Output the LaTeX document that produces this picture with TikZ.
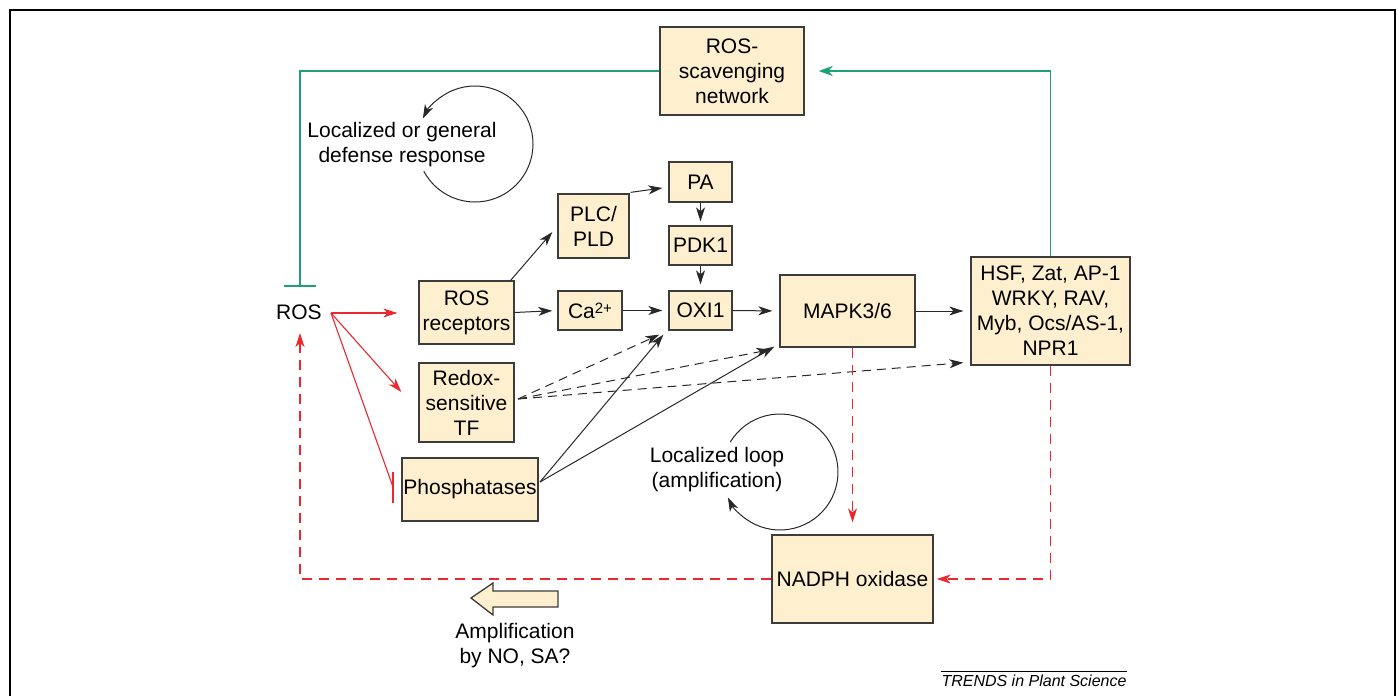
\documentclass[tikz,border=0pt]{standalone}
\usepackage{fontspec}
\setmainfont{Liberation Sans}
\usetikzlibrary{arrows.meta,calc}
\definecolor{boxfill}{RGB}{254,239,206}
\definecolor{boxline}{RGB}{60,60,60}
\definecolor{rosred}{RGB}{235,40,45}
\definecolor{scgreen}{RGB}{30,160,120}
\definecolor{ink}{RGB}{40,40,40}
\newcommand\bigfnt{\fontsize{21}{25}\selectfont}
\begin{document}
\begin{tikzpicture}[x=1pt,y=-1pt,
  box/.style={draw=boxline, fill=boxfill, line width=1.3pt, inner sep=0pt, align=center, font=\bigfnt},
  lbl/.style={inner sep=0pt, align=center, font=\bigfnt},
  tip/.style={-{Stealth[length=14pt,width=9pt,inset=4pt]}},
  blk/.style={draw=ink, line width=1pt, tip},
  blkd/.style={blk, dash pattern=on 9pt off 6pt},
  redarr/.style={draw=rosred, line width=1.1pt, tip},
  reddash/.style={redarr, dash pattern=on 10pt off 7pt},
  grn/.style={draw=scgreen, line width=1.8pt}]
\useasboundingbox (0,0) rectangle (1398,696);
\draw[line width=2.2pt] (10,696) -- (10,10) -- (1395,10) -- (1395,696);

% boxes
\node[box, minimum width=144pt, minimum height=88pt] (scav) at (732,71) {ROS-\\scavenging\\network};
\node[box, minimum width=95pt, minimum height=63pt] (rosrec) at (466.5,312.5) {ROS\\receptors};
\node[box, minimum width=95pt, minimum height=79pt] (redox) at (466.5,402.5) {Redox-\\sensitive\\TF};
\node[box, minimum width=136pt, minimum height=63pt] (phos) at (470,489.5) {Phosphatases};
\node[box, minimum width=71pt, minimum height=64pt] (plc) at (593.5,226) {PLC/\\PLD};
\node[box, minimum width=63pt, minimum height=40pt] (pa) at (700.5,182) {PA};
\node[box, minimum width=63pt, minimum height=39pt] (pdk) at (700.5,245.5) {PDK1};
\node[box, minimum width=63pt, minimum height=39pt] (oxi) at (700.5,310.5) {OXI1};
\node[box, minimum width=64pt, minimum height=39pt] (ca) at (590,310.5) {Ca\raisebox{5pt}{\fontsize{15}{15}\selectfont 2+}};
\node[box, minimum width=135pt, minimum height=72pt] (mapk) at (847.5,311) {MAPK3/6};
\node[box, minimum width=159pt, minimum height=108pt] (hsf) at (1050.5,311) {HSF, Zat, AP-1\\WRKY, RAV,\\Myb, Ocs/AS-1,\\NPR1};
\node[box, minimum width=161pt, minimum height=88pt] (nadph) at (852.5,579) {NADPH oxidase};

% labels
\node[lbl] (ros) at (299,312) {ROS};
\node[lbl] (defense) at (402,145) {Localized or general\\defense response};
\node[lbl] (loop) at (717,470) {Localized loop\\(amplification)};
\node[lbl] (ampl) at (515,646) {Amplification\\by NO, SA?};
\node[inner sep=0pt, font=\fontsize{16}{19}\selectfont\itshape] (trends) at (1034,681) {TRENDS in Plant Science};
\draw[line width=0.8pt] ($(trends.north west)+(0,-4)$) -- ($(trends.north east)+(0,-4)$);

% free ends
\coordinate (ro) at (331,313);
\coordinate (gend) at (300,287);
\coordinate (rtip) at (300,333);
\coordinate (rx) at (518,399);
\coordinate (px) at (540,482);
\coordinate (tbar) at (393,487);

% black solid arrows
\draw[blk, shorten >=5pt] (rosrec.east) -- (ca.west);
\draw[blk, shorten >=6pt] (ca.east) -- (oxi.west);
\draw[blk, shorten >=7pt] (oxi.east) -- (mapk.west);
\draw[blk, shorten >=7pt] (mapk.east) -- (hsf.west);
\draw[blk, shorten >=4pt] (pa.south) -- (pdk.north);
\draw[blk, shorten >=6pt] (pdk.south) -- (oxi.north);
\draw[blk] ($(rosrec.north east)+(-4,0)$) -- ($(plc.west)+(-5,6)$);
\draw[blk] ($(plc.north east)+(1,-1)$) -- ($(pa.west)+(-6,6)$);
\draw[blk] (px) -- ($(oxi.south west)+(-5,4)$);
\draw[blk] (px) -- ($(mapk.south west)+(-5,-1)$);

% black dashed arrows
\draw[blkd] (rx) -- ($(oxi.south west)+(-9,4)$);
\draw[blkd] (rx) -- ($(mapk.south west)+(-9,2)$);
\draw[blkd] (rx) -- ($(hsf.south west)+(-7,-3)$);

% red arrows from ROS
\draw[redarr, shorten >=21pt] (ro) -- (ro -| rosrec.west);
\draw[redarr] (ro) -- ($(redox.west)+(-17,-10.5)$);
\draw[draw=rosred, line width=1.1pt] (ro) -- (tbar);
\draw[draw=rosred, line width=1.4pt] ($(tbar)+(0,-15)$) -- ($(tbar)+(0,16)$);

% red dashed
\draw[reddash] (nadph.west) -| (rtip);
\draw[reddash, shorten >=12pt] (nadph.north |- mapk.south) -- (nadph.north);
\draw[reddash, shorten >=3pt] (hsf.south) |- (nadph.east);

% green
\draw[grn, -{Stealth[length=14pt,width=10pt,inset=4pt]}] (hsf.north) |- ($(scav.east)+(14,0)$);
\draw[grn, -{Bar[width=32pt]}] (scav.west) -| (gend);

% loops
\coordinate (c1) at (475,144);
\draw[draw=ink, line width=1pt, tip] (c1) ++(-208:58) arc[start angle=-208, end angle=-514, radius=58];
\coordinate (c2) at (780,472);
\draw[draw=ink, line width=1pt, tip] (c2) ++(-149:58) arc[start angle=-149, end angle=154, radius=58];

% hollow arrow
\draw[draw=boxline, fill=boxfill, line width=1.3pt] (471,598) -- (493,583) -- (493,591) -- (558,591) -- (558,607) -- (493,607) -- (493,615) -- cycle;
\end{tikzpicture}
\end{document}
